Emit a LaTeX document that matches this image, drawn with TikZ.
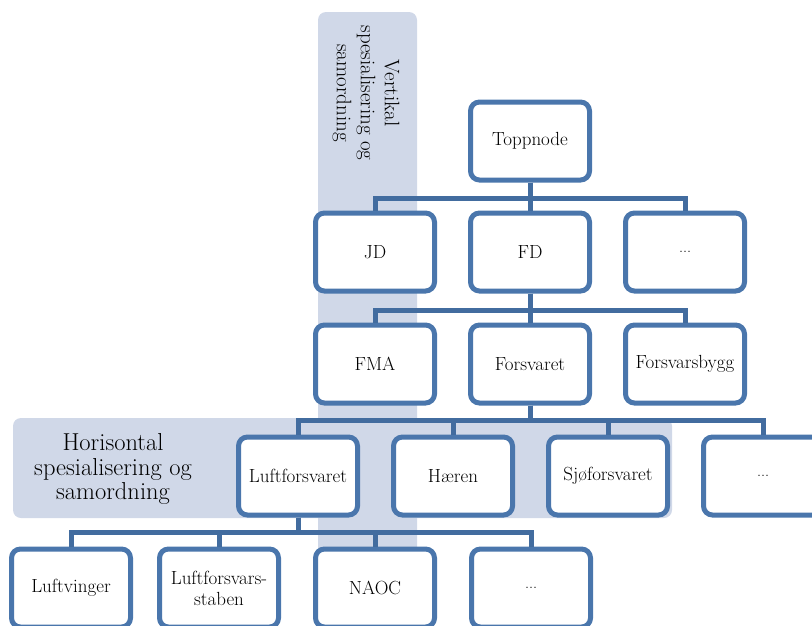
\documentclass[tikz,border=0pt]{standalone}
\usepackage[svgnames]{xcolor}
\usepackage{tikz}
\definecolor{orgline}{HTML}{4A76AC}
\definecolor{orglink}{HTML}{426C9F}
\definecolor{orgband}{HTML}{D0D8E8}
\newcommand{\moreunits}{{\fontsize{16}{18}\selectfont...}}

\begin{document}
\begin{tikzpicture}[x=1pt, y=-1pt,
                    box/.style = {draw=orgline, line width=5pt, fill=white, rounded corners=9pt,
                                  minimum width=119pt, minimum height=78pt, align=center,
                                  font=\fontsize{19}{21}\selectfont},
                    link/.style = {draw=orglink, line width=5pt},
                    band/.style = {fill=orgband, rounded corners=8pt},
                    lbl/.style = {align=center, font=\fontsize{24.5}{24.5}\selectfont}
                    ]
\useasboundingbox (0,0) rectangle (812,625);
\clip (0,0) rectangle (812,625);

% bands behind the chart
\fill[band] (318,12) rectangle (417,650);
\fill[band] (13,418) rectangle (672,518);

\node[lbl, rotate=-90, font=\fontsize{21}{24}\selectfont] (vlab) at (366,93)
     {Vertikal\\spesialisering og\\samordning};
\node[lbl] (hlab) at (113,469) {Horisontal\\spesialisering og\\samordning};

% boxes
\node[box] (top)  at (530,141) {Toppnode};

\node[box] (jd)   at (375,252) {JD};
\node[box] (fd)   at (530,252) {FD};
\node[box] (dep)  at (685,252) {\moreunits};

\node[box] (fma)  at (375,364) {FMA};
\node[box] (fsv)  at (530,364) {Forsvaret};
\node[box] (fb)   at (685,364) {Forsvarsbygg};

\node[box] (lf)   at (298,476) {Luftforsvaret};
\node[box] (hr)   at (453,476) {Hæren};
\node[box] (sj)   at (608,476) {Sjøforsvaret};
\node[box] (gren) at (763,476) {\moreunits};

\node[box] (lv)   at (71,588)  {Luftvinger};
\node[box] (lst)  at (219,588) {Luftforsvars-\\staben};
\node[box] (naoc) at (375,588) {NAOC};
\node[box] (lfo)  at (531,588) {\moreunits};

% connectors
\foreach \c in {jd,fd,dep}
  \draw[link] (top.south) -- ++(0,16) -| (\c.north);
\foreach \c in {fma,fsv,fb}
  \draw[link] (fd.south) -- ++(0,17) -| (\c.north);
\foreach \c in {lf,hr,sj,gren}
  \draw[link] (fsv.south) -- ++(0,15) -| (\c.north);
\foreach \c in {lv,lst,naoc,lfo}
  \draw[link] (lf.south) -- ++(0,15) -| (\c.north);
\end{tikzpicture}
\end{document}
